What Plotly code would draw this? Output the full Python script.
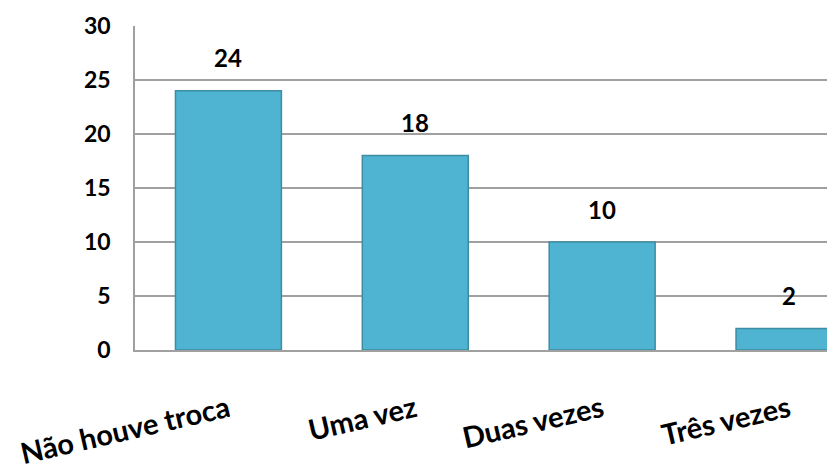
import plotly.graph_objects as go

categories = ["Não houve troca", "Uma vez", "Duas vezes", "Três vezes"]
values = [24, 18, 10, 2]
y_ticks = [0, 5, 10, 15, 20, 25, 30]

FONT = "Lato"

fig = go.Figure()
fig.add_trace(go.Bar(
    x=categories,
    y=values,
    width=0.567,
    marker=dict(color="#4FB4D2", line=dict(color="#3C8CA4", width=1.5)),
    hoverinfo="x+y",
))

for c, v in zip(categories, values):
    fig.add_annotation(
        x=c, y=v, text=f"<b>{v}</b>", showarrow=False,
        yanchor="middle", yshift=33,
        font=dict(family=FONT, size=24, color="#000000"),
    )

# page body has an 8px margin, so the figure is sized to end at the window edge
fig.update_layout(
    width=827, height=461,
    margin=dict(l=127, r=0, t=18, b=119),
    paper_bgcolor="white", plot_bgcolor="white",
    showlegend=False,
    bargap=0.43,
)
fig.update_xaxes(
    type="category",
    range=[-0.5, 3.246],
    automargin=False,
    tickangle=-13,
    tickfont=dict(family=FONT, size=29, color="#000000"),
    tickprefix="<b>", ticksuffix="</b>",
    showgrid=False,
    showline=True, linecolor="#A0A0A0", linewidth=1.5,
    ticks="",
    ticklabelstandoff=30,
)
fig.update_yaxes(
    range=[0, 30],
    automargin=False,
    tickvals=y_ticks,
    ticktext=[f"<b>{t}</b>" for t in y_ticks],
    tickfont=dict(family=FONT, size=23, color="#000000"),
    showgrid=True, gridcolor="#A0A0A0", gridwidth=1.5,
    showline=True, linecolor="#A0A0A0", linewidth=1.5,
    zeroline=False,
    ticks="",
    ticklabelstandoff=18,
)

fig.write_html("out.html")
